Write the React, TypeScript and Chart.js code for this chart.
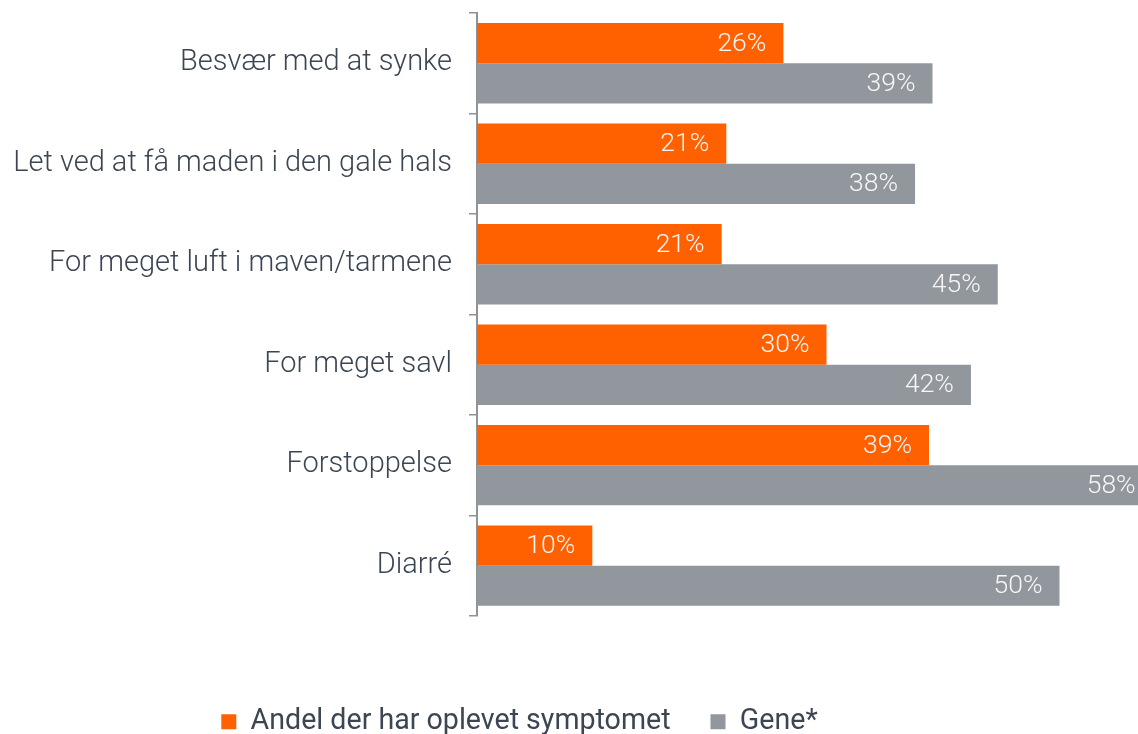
import React, { useEffect, useRef } from "react";
import { Chart, registerables } from "chart.js";

Chart.register(...registerables);

const categories = [
  "Besvær med at synke",
  "Let ved at få maden i den gale hals",
  "For meget luft i maven/tarmene",
  "For meget savl",
  "Forstoppelse",
  "Diarré",
];
const symptomValues = [26.3, 21.4, 21.0, 30.0, 38.8, 9.9];
const geneValues = [39.1, 37.6, 44.7, 42.4, 58.0, 50.0];
const seriesNames = ["Andel der har oplevet symptomet", "Gene*"];

const ORANGE = "#FF6100";
const GRAY = "#91979C";
const TEXT = "#3B4652";
const AXIS = "#8E9398";

const PX_PER_PCT = 11.65;
const AXIS_X = 477;
const RIGHT_PAD = 99;

const valueLabels = {
  id: "valueLabels",
  afterDatasetsDraw(chart: any) {
    const ctx = chart.ctx;
    const xScale = chart.scales.x;
    ctx.save();
    ctx.font = "300 26.5px Roboto";
    ctx.fillStyle = "#F7F7F7";
    ctx.textAlign = "right";
    ctx.textBaseline = "middle";
    chart.data.datasets.forEach((ds: any, di: number) => {
      const meta = chart.getDatasetMeta(di);
      meta.data.forEach((el: any, i: number) => {
        const v = ds.data[i];
        const x = xScale.getPixelForValue(v) - 17;
        ctx.fillText(Math.round(v) + "%", x, el.y + 1);
      });
    });
    ctx.restore();
  },
};

export default function App() {
  const ref = useRef<HTMLCanvasElement>(null);
  useEffect(() => {
    if (!ref.current) return;
    const chart = new Chart(ref.current, {
      type: "bar",
      data: {
        labels: categories,
        datasets: [
          {
            label: seriesNames[0],
            data: symptomValues,
            backgroundColor: ORANGE,
            borderWidth: 0,
            categoryPercentage: 0.8,
            barPercentage: 1.0,
            clip: false,
          },
          {
            label: seriesNames[1],
            data: geneValues,
            backgroundColor: GRAY,
            borderWidth: 0,
            categoryPercentage: 0.8,
            barPercentage: 1.0,
            clip: false,
          },
        ],
      },
      options: {
        indexAxis: "y",
        responsive: false,
        animation: false,
        devicePixelRatio: 1,
        layout: { padding: { top: 13, right: RIGHT_PAD, left: 0, bottom: -12 } },
        plugins: {
          tooltip: { enabled: false },
          legend: {
            position: "bottom",
            align: "center",
            labels: {
              boxWidth: 15,
              boxHeight: 15,
              padding: 40,
              color: TEXT,
              font: { family: "Roboto", size: 28.6, weight: "normal" },
            },
          },
        },
        scales: {
          x: {
            min: 0,
            max: (1138 - RIGHT_PAD - AXIS_X) / PX_PER_PCT,
            display: true,
            grid: { display: false },
            border: { display: false },
            ticks: { display: false },
            afterFit: (s: any) => {
              s.height = 51.5;
              s.paddingLeft = 0;
              s.paddingRight = 0;
            },
          },
          y: {
            grid: {
              drawOnChartArea: false,
              drawTicks: true,
              tickLength: 8,
              color: AXIS,
              lineWidth: 1.5,
            },
            border: { display: true, color: AXIS, width: 2 },
            ticks: {
              autoSkip: false,
              padding: 17,
              color: TEXT,
              font: { family: "Roboto", size: 29, weight: "300" },
            },
            afterFit: (s: any) => {
              s.width = AXIS_X;
              s.paddingTop = 0;
              s.paddingBottom = 0;
            },
          },
        },
      },
      plugins: [valueLabels],
    });
    return () => chart.destroy();
  }, []);
  return (
    <div style={{ position: "absolute", left: 0, top: 0, width: 1138, height: 734 }}>
      <canvas ref={ref} width={1138} height={734} style={{ display: "block" }} />
    </div>
  );
}
